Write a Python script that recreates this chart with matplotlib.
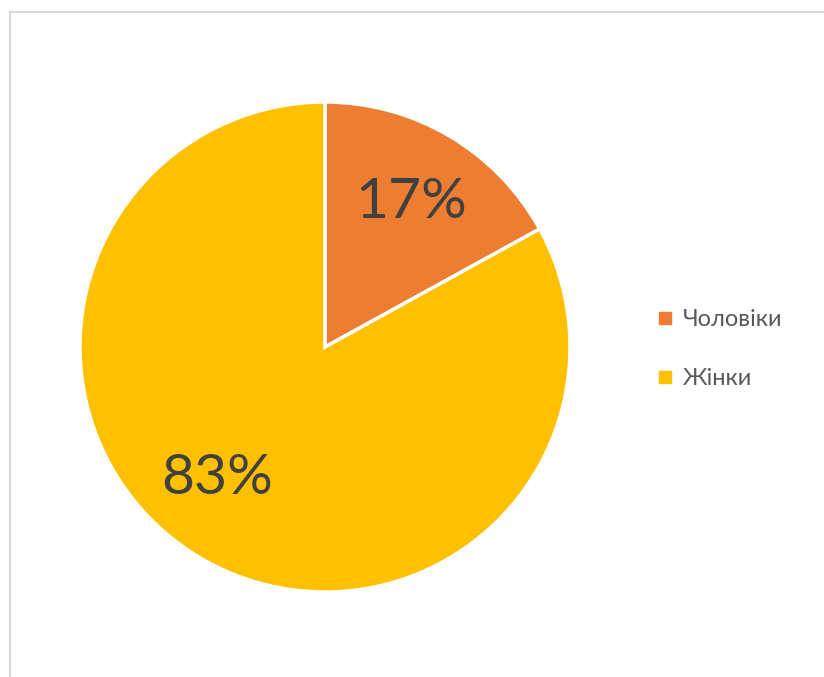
import matplotlib
matplotlib.use("Agg")
import matplotlib.pyplot as plt
from matplotlib.patches import Rectangle
from matplotlib.lines import Line2D

categories = ["Чоловіки", "Жінки"]
values = [17, 83]
colors = ["#ED7D31", "#FFC000"]

plt.rcParams['font.family'] = ['Lato', 'DejaVu Sans']

fig = plt.figure(figsize=(8.24, 6.77), dpi=100)
W, H = 824, 677
cx, cy, r = 325, 347, 245
ax = fig.add_axes([(cx - r) / W, (H - cy - r) / H, 2 * r / W, 2 * r / H])
wedges, texts, autotexts = ax.pie(
    values, colors=colors, startangle=90, counterclock=False,
    autopct=lambda p: f"{p:.0f}%", pctdistance=0.69,
    wedgeprops=dict(edgecolor="white", linewidth=2.5),
    textprops=dict(color="#404040", fontsize=41))
autotexts[0].set_position((0.35, 0.59))
# Excel-like label placement for the large slice
autotexts[1].set_position((-0.44, -0.535))
ax.set_xlim(-1, 1)
ax.set_ylim(-1, 1)
ax.set_aspect("equal")
ax.axis("off")

handles = [Line2D([], [], marker="s", linestyle="", markersize=9,
                  markerfacecolor=c, markeredgecolor=c) for c in colors]
fig.legend(handles, categories, loc="center left",
           bbox_to_anchor=(634 / W, 1 - 349 / H), frameon=False,
           fontsize=17, labelcolor="#595959", handlelength=0.8,
           handletextpad=0.35, labelspacing=1.6)

fig.patches.append(Rectangle((9.5 / W, -0.1), 1.2, 1 - 11.5 / H + 0.1,
                             transform=fig.transFigure, fill=False,
                             edgecolor="#d9d9d9", linewidth=1.5))

fig.savefig("out.png", dpi=100, facecolor="white")
